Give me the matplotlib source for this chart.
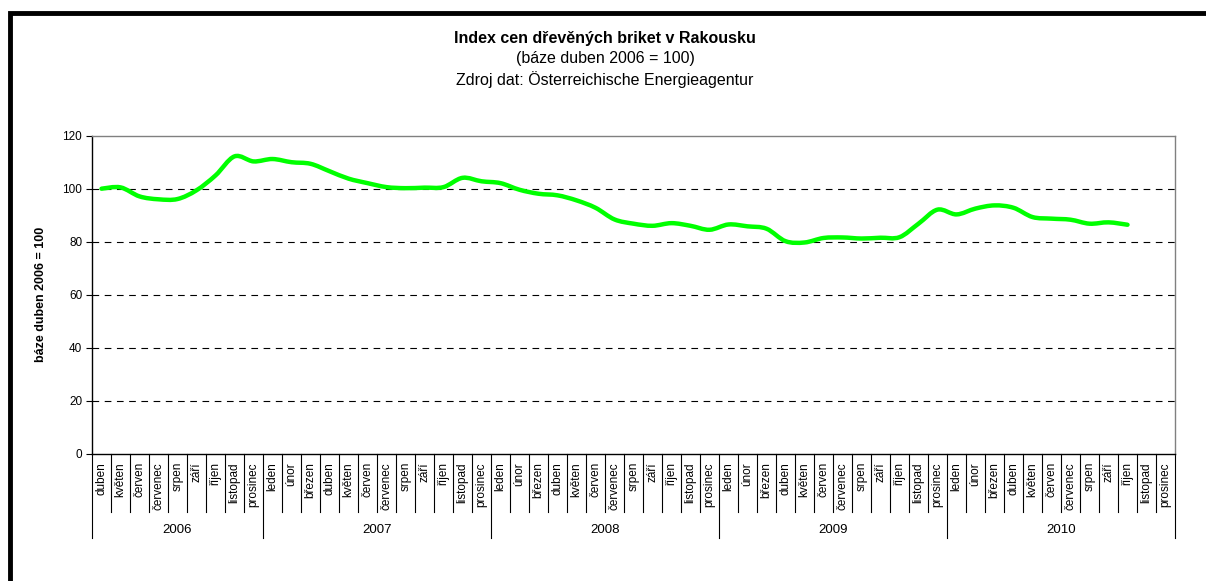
import matplotlib
matplotlib.use("Agg")
import matplotlib.pyplot as plt
from matplotlib.path import Path
from matplotlib.patches import PathPatch, Rectangle
import matplotlib.transforms as mtransforms
import numpy as np

plt.rcParams['font.family'] = ['Liberation Sans', 'DejaVu Sans']

# ---- data ----
months = ["duben", "květen", "červen", "červenec", "srpen", "září", "říjen", "listopad", "prosinec"] + \
         (["leden", "únor", "březen", "duben", "květen", "červen", "červenec", "srpen", "září",
           "říjen", "listopad", "prosinec"] * 4)
years = ["2006", "2007", "2008", "2009", "2010"]
year_counts = [9, 12, 12, 12, 12]
index_values = [100.0, 100.5, 97.1, 96.0, 96.1, 99.4, 105.0, 112.2, 110.3,
                111.2, 110.0, 109.4, 106.6, 103.8, 102.1, 100.6, 100.2, 100.4, 100.6, 104.1, 102.8,
                102.1, 99.6, 98.1, 97.5, 95.6, 92.8, 88.4, 86.8, 86.0, 87.0, 86.0, 84.5,
                86.5, 85.8, 84.9, 80.2, 79.7, 81.4, 81.6, 81.2, 81.5, 81.7, 86.8, 92.1,
                90.3, 92.5, 93.7, 92.8, 89.3, 88.7, 88.3, 86.8, 87.3, 86.4]
title_lines = ["Index cen dřevěných briket v Rakousku", "(báze duben 2006 = 100)",
               "Zdroj dat: Österreichische Energieagentur"]
ylabel = "báze duben 2006 = 100"
yticks = [0, 20, 40, 60, 80, 100, 120]

W, H = 1206, 581
fig = plt.figure(figsize=(W / 100, H / 100), dpi=100)
fig.patch.set_facecolor("white")

# outer frame (cut off at right/bottom like the reference)
fig.patches.append(Rectangle((9.5 / W, -0.05), 1.2, 1 - 13 / H + 0.05, transform=fig.transFigure,
                             fill=False, edgecolor="black", linewidth=3.5))

left, right = 92 / W, 1175 / W
top, bottom = 1 - 135.7 / H, 1 - 453.7 / H
ax = fig.add_axes([left, bottom, right - left, top - bottom])

n = len(months)
ax.set_xlim(-0.5, n - 0.5)
ax.set_ylim(0, 120)

# smoothed line (Excel-like Catmull-Rom Bezier)
xs = np.arange(len(index_values), dtype=float)
ys = np.array(index_values, dtype=float)
P = np.column_stack([xs, ys])
verts = [tuple(P[0])]
codes = [Path.MOVETO]
for i in range(len(P) - 1):
    p0 = P[i - 1] if i > 0 else P[i]
    p1, p2 = P[i], P[i + 1]
    p3 = P[i + 2] if i + 2 < len(P) else P[i + 1]
    c1 = p1 + (p2 - p0) / 6.0
    c2 = p2 - (p3 - p1) / 6.0
    verts += [tuple(c1), tuple(c2), tuple(p2)]
    codes += [Path.CURVE4] * 3
ax.add_patch(PathPatch(Path(verts, codes), facecolor="none", edgecolor="#00FF00",
                       linewidth=3.2, capstyle="round", joinstyle="round", zorder=3))

# grid
for v in yticks[1:-1]:
    ax.axhline(v, color="black", linestyle=(0, (6, 5)), linewidth=0.8, zorder=1)

for s in ["top", "right"]:
    ax.spines[s].set_color("#808080")
    ax.spines[s].set_linewidth(1.0)
for s in ["left", "bottom"]:
    ax.spines[s].set_color("black")
    ax.spines[s].set_linewidth(1.0)

ax.set_yticks(yticks)
ax.set_yticklabels([str(v) for v in yticks], fontsize=8.5)
ax.tick_params(axis="y", direction="out", length=4, width=0.8, pad=3)

ax.set_xticks(np.arange(n))
ax.set_xticklabels(months, rotation=90, fontsize=8.5, va="top", ha="center")
ax.tick_params(axis="x", length=0, pad=6)

# category separators and year separators
trans = mtransforms.blended_transform_factory(ax.transData, ax.transAxes)
short_len = (512 - 453.7) / (453.7 - 135.7)
long_len = (538 - 453.7) / (453.7 - 135.7)
year_bounds = np.concatenate([[0], np.cumsum(year_counts)]) - 0.5
for b in np.arange(n + 1) - 0.5:
    L = long_len if np.any(np.isclose(year_bounds, b)) else short_len
    ax.plot([b, b], [0, -L], transform=trans, color="black", linewidth=0.8, clip_on=False)
for k, y in enumerate(years):
    cx = (year_bounds[k] + year_bounds[k + 1]) / 2
    ax.text(cx, -(530 - 453.7) / (453.7 - 135.7), y, transform=trans, ha="center", va="center",
            fontsize=9.5)

ax.set_ylabel(ylabel, fontsize=9, fontweight="bold")
ax.yaxis.set_label_coords(-(92 - 47) / (1175 - 92), 0.5)

fig.text(605 / W, 1 - 38 / H, title_lines[0], ha="center", va="center", fontsize=11.5, fontweight="bold")
fig.text(605 / W, 1 - 59 / H, title_lines[1], ha="center", va="center", fontsize=11.5)
fig.text(605 / W, 1 - 80 / H, title_lines[2], ha="center", va="center", fontsize=11.5)

fig.savefig("out.png", dpi=100, facecolor="white")
